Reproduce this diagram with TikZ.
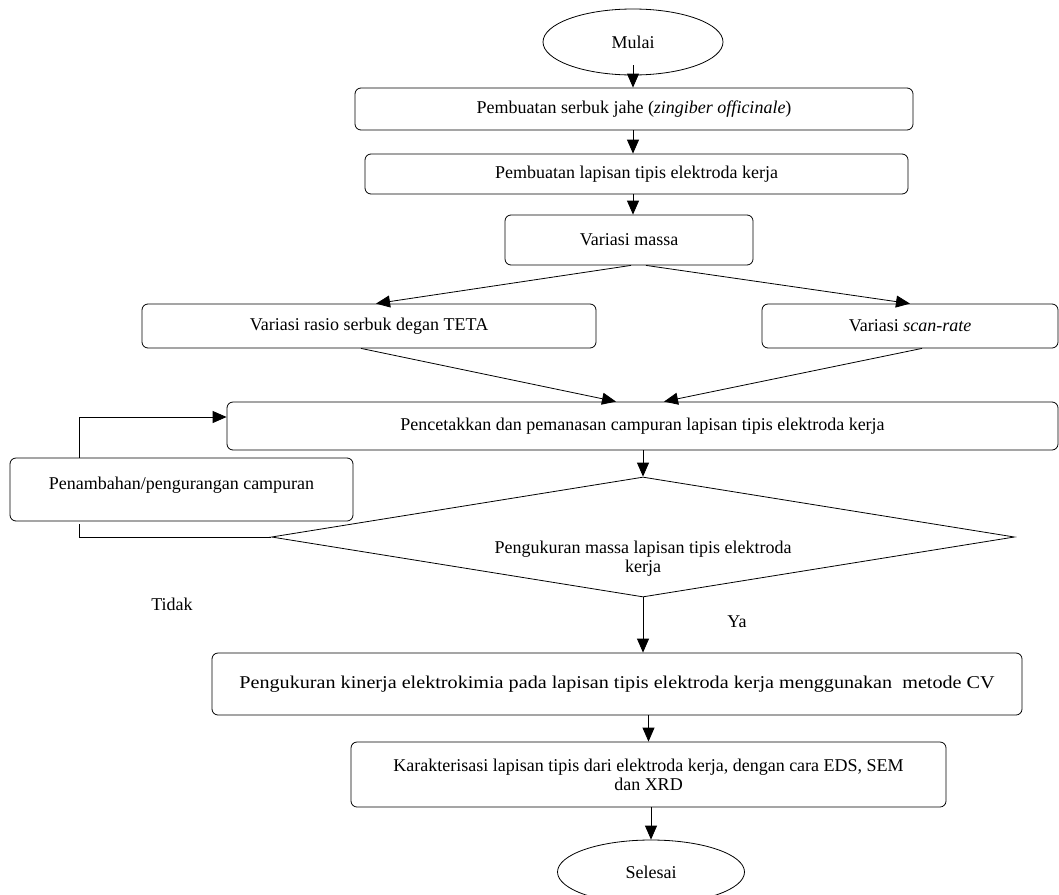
\documentclass[tikz,border=0pt]{standalone}
\usepackage{fontspec}
\setmainfont{Liberation Serif}
\usetikzlibrary{arrows.meta, shapes.geometric}

\begin{document}
\begin{tikzpicture}[x=1pt, y=-1pt,
    box/.style={rectangle, rounded corners=6pt, draw, line width=0.8pt,
                inner sep=0pt, align=center},
    term/.style={ellipse, draw, line width=0.8pt, inner sep=0pt},
    cond/.style={diamond, draw, line width=0.8pt, inner sep=0pt, aspect=6},
    arr/.style={-{Triangle[length=14pt, width=12pt]}, line width=0.8pt},
    lbl/.style={inner sep=0pt},
    font=\fontsize{18}{19}\selectfont
  ]
    \useasboundingbox (0, 0) rectangle (1059, 894);

    \node[term, minimum width=180pt, minimum height=66pt] (mulai) at (633, 42) {Mulai};
    \node[box, minimum width=558pt, minimum height=42pt] (serbuk) at (634, 109)
      {Pembuatan serbuk jahe (\textit{zingiber officinale})};
    \node[box, minimum width=543pt, minimum height=40pt] (lapisan) at (636.5, 174)
      {Pembuatan lapisan tipis elektroda kerja};
    \node[box, minimum width=248pt, minimum height=50pt] (massa) at (629, 240) {Variasi massa};
    \node[box, minimum width=454pt, minimum height=44pt] (rasio) at (369, 326)
      {Variasi rasio serbuk degan TETA};
    \node[box, minimum width=296pt, minimum height=44pt] (scan) at (910, 326)
      {Variasi \textit{scan-rate}};
    \node[box, minimum width=831pt, minimum height=48pt] (cetak) at (642.5, 426)
      {Pencetakkan dan pemanasan campuran lapisan tipis elektroda kerja};
    \node[box, minimum width=343pt, minimum height=63pt] (tambah) at (181.5, 489.5)
      {\smash{Penambahan/pengurangan campuran}};
    \node[cond, minimum width=743pt, minimum height=120pt] (ukur) at (643, 537)
      {\raisebox{-27pt}[0pt][0pt]{\begin{tabular}{@{}c@{}}Pengukuran massa lapisan tipis elektroda\\kerja\end{tabular}}};
    \node[box, minimum width=810pt, minimum height=62pt] (kinerja) at (617, 684)
      {\scalebox{1.12}[1]{Pengukuran kinerja elektrokimia pada lapisan tipis elektroda kerja menggunakan\ \ metode CV}};
    \node[box, minimum width=595pt, minimum height=65pt] (karakter) at (648.5, 774.5)
      {Karakterisasi lapisan tipis dari elektroda kerja, dengan cara EDS, SEM\\dan XRD};
    \node[term, minimum width=187pt, minimum height=64pt] (selesai) at (651, 872) {Selesai};

    \node[lbl] (tidak) at (172, 604) {Tidak};
    \node[lbl] (ya) at (737, 622) {Ya};

    % alur utama
    \draw[arr] ([yshift=10pt]mulai.south) -- (mulai |- serbuk.north);
    \draw[arr] (mulai |- serbuk.south) -- (mulai |- lapisan.north);
    \draw[arr] (mulai |- lapisan.south) -- (mulai |- massa.north);
    \draw[arr] ([xshift=2pt]massa.south) -- ([xshift=7pt]rasio.north);
    \draw[arr] ([xshift=17pt]massa.south) -- (scan.north);
    \draw[arr] ([xshift=-8pt]rasio.south) -- ([xshift=-26.5pt]cetak.north);
    \draw[arr] ([xshift=12pt]scan.south) -- ([xshift=21.5pt]cetak.north);
    \draw[arr] (ukur.north |- cetak.south) -- (ukur.north);
    \draw[arr] (ukur.south) -- (ukur.south |- kinerja.north);
    \draw[arr] (karakter.north |- kinerja.south) -- (karakter.north);
    \draw[arr] (selesai.north |- karakter.south) -- (selesai.north);

    % putaran ulang
    \coordinate (balik) at (79, 417);
    \draw[arr] (tambah.north -| balik) -- (balik) -- (balik -| cetak.west);
    \draw[line width=0.8pt] (ukur.west) -- (ukur.west -| balik)
      -- ([yshift=-3pt]tambah.south -| balik);
\end{tikzpicture}
\end{document}
